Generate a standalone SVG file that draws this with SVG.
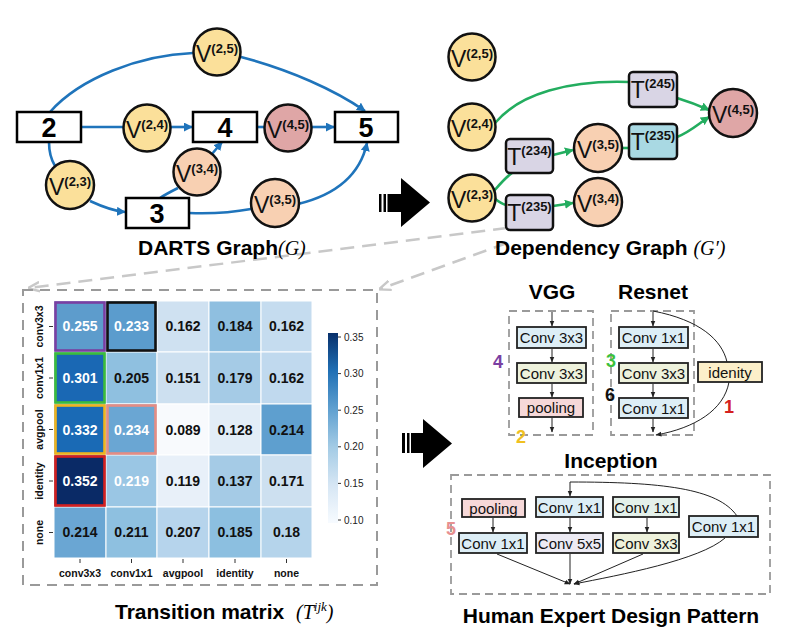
<svg xmlns="http://www.w3.org/2000/svg" width="800" height="638" viewBox="0 0 800 638">
<defs>
<style>
text{font-family:"Liberation Sans",Arial,sans-serif;}
.box{fill:#fff;stroke:#000;stroke-width:2.5;}
.num{font-size:27px;font-weight:bold;text-anchor:middle;}
.vy{fill:#fbe09a;stroke:#111;stroke-width:2.5;}
.vp{fill:#f8d0b2;stroke:#111;stroke-width:2.5;}
.vr{fill:#dfa6a6;stroke:#111;stroke-width:2.5;}
.lbl{font-size:23px;text-anchor:middle;fill:#111;}
.sup{font-size:13px;font-weight:bold;}
.tb{fill:#d9d5e5;stroke:#111;stroke-width:2.5;}
.tc{fill:#a9d9e3;stroke:#111;stroke-width:2.5;}
.be{fill:none;stroke:#1f74bb;stroke-width:2.6;}
.ge{fill:none;stroke:#23ad5f;stroke-width:2.6;}
.title{font-size:21px;font-weight:bold;}
.math{font-family:"Liberation Serif","Times New Roman",serif;font-style:italic;font-size:20px;font-weight:normal;}
.msup{font-family:"Liberation Serif","Times New Roman",serif;font-style:italic;font-size:13px;font-weight:normal;}
.gd{fill:none;stroke:#c8c8c8;stroke-width:2.5;stroke-dasharray:14 8;}
.frame{fill:none;stroke:#9a9a9a;stroke-width:2;stroke-dasharray:10 7;}
.sframe{fill:none;stroke:#9a9a9a;stroke-width:1.8;stroke-dasharray:8 5;}
.cv{font-size:14px;font-weight:bold;text-anchor:middle;fill:#111;}
.cw{font-size:14px;font-weight:bold;text-anchor:middle;fill:#fff;}
.ax{font-size:10.5px;font-weight:bold;text-anchor:middle;fill:#111;}
.cb{font-size:10px;fill:#222;}
.sb{stroke:#222;stroke-width:1.8;}
.st{font-size:15px;text-anchor:middle;fill:#111;}
.ka{fill:none;stroke:#222;stroke-width:1;}
.mark{font-size:18px;font-weight:bold;text-anchor:middle;}
</style>
<marker id="mb" viewBox="0 0 10 10" refX="9" refY="5" markerWidth="9" markerHeight="9" markerUnits="userSpaceOnUse" orient="auto"><path d="M0,0 L10,5 L0,10 z" fill="#1f74bb"/></marker>
<marker id="mg" viewBox="0 0 10 10" refX="9" refY="5" markerWidth="9" markerHeight="9" markerUnits="userSpaceOnUse" orient="auto"><path d="M0,0 L10,5 L0,10 z" fill="#23ad5f"/></marker>
<marker id="mk" viewBox="0 0 10 10" refX="9" refY="5" markerWidth="6" markerHeight="6" markerUnits="userSpaceOnUse" orient="auto"><path d="M0,1 L10,5 L0,9 z" fill="#222"/></marker>
<marker id="mgr" viewBox="0 0 10 10" refX="9" refY="5" markerWidth="12" markerHeight="12" markerUnits="userSpaceOnUse" orient="auto"><path d="M0,1 L10,5 L0,9" fill="none" stroke="#c8c8c8" stroke-width="2"/></marker>
<linearGradient id="blues" x1="0" y1="1" x2="0" y2="0">
<stop offset="0" stop-color="#f7fbff"/>
<stop offset="0.2" stop-color="#d6e6f4"/>
<stop offset="0.4" stop-color="#a3cbe5"/>
<stop offset="0.6" stop-color="#5fa0d0"/>
<stop offset="0.8" stop-color="#2070b5"/>
<stop offset="1" stop-color="#08306b"/>
</linearGradient>
</defs>
<rect width="800" height="638" fill="#fff"/>

<g id="zoom-lines">
<path class="gd" d="M507,228 L29,288" marker-end="url(#mgr)"/>
<path class="gd" d="M507,243 L380,289" marker-end="url(#mgr)"/>
</g>

<g id="darts-edges">
<path class="be" d="M50,112 C80,78 140,55 193,53"/>
<path class="be" d="M241,57 C290,70 335,90 365,111" marker-end="url(#mb)"/>
<path class="be" d="M81,127 L124,127"/>
<path class="be" d="M170,127 L192,127" marker-end="url(#mb)"/>
<path class="be" d="M257,127 L265,127"/>
<path class="be" d="M311,127 L334,127" marker-end="url(#mb)"/>
<path class="be" d="M49,142 C49,155 52,161 55,166"/>
<path class="be" d="M90,201 C103,207 113,211 125,212" marker-end="url(#mb)"/>
<path class="be" d="M160,198 C166,194 172,191 178,188"/>
<path class="be" d="M212,154 L222,142" marker-end="url(#mb)"/>
<path class="be" d="M189,213 C215,214 235,212 251,209"/>
<path class="be" d="M298,204 C335,195 360,175 367,143" marker-end="url(#mb)"/>
</g>

<g id="n2"><rect class="box" x="17" y="112" width="64" height="30"/><text class="num" x="49" y="137">2</text></g>
<g id="n4"><rect class="box" x="193" y="112" width="64" height="30"/><text class="num" x="225" y="137">4</text></g>
<g id="n5"><rect class="box" x="335" y="112" width="63" height="30"/><text class="num" x="366" y="137">5</text></g>
<g id="n3"><rect class="box" x="126" y="198" width="63" height="30"/><text class="num" x="157" y="223">3</text></g>

<g id="v25"><circle class="vy" cx="217" cy="52" r="23.5"/><text class="lbl" x="217" y="62">V<tspan class="sup" dy="-9">(2,5)</tspan></text></g>
<g id="v24"><circle class="vy" cx="147" cy="128" r="23.5"/><text class="lbl" x="147" y="138">V<tspan class="sup" dy="-9">(2,4)</tspan></text></g>
<g id="v45"><circle class="vr" cx="288" cy="128" r="23.5"/><text class="lbl" x="288" y="138">V<tspan class="sup" dy="-9">(4,5)</tspan></text></g>
<g id="v23"><circle class="vy" cx="70" cy="185" r="24"/><text class="lbl" x="70" y="195">V<tspan class="sup" dy="-9">(2,3)</tspan></text></g>
<g id="v34"><circle class="vp" cx="197" cy="172" r="23.5"/><text class="lbl" x="197" y="182">V<tspan class="sup" dy="-9">(3,4)</tspan></text></g>
<g id="v35"><circle class="vp" cx="275" cy="203" r="24"/><text class="lbl" x="275" y="213">V<tspan class="sup" dy="-9">(3,5)</tspan></text></g>

<g id="darts-title"><text x="138" y="255" class="title">DARTS Graph<tspan class="math">(G)</tspan></text></g>

<g id="big-arrow-1">
<rect x="379" y="194" width="2.5" height="18" fill="#000"/>
<rect x="383.5" y="194" width="2.5" height="18" fill="#000"/>
<polygon points="387.5,194 401,194 401,178 430,202.5 401,227 401,212 387.5,212" fill="#000"/>
</g>
<g id="big-arrow-2">
<rect x="402" y="433" width="3" height="20" fill="#000"/>
<rect x="407" y="433" width="2.5" height="20" fill="#000"/>
<polygon points="411,433 423,433 423,419 452,443.5 423,468 423,453 411,453" fill="#000"/>
</g>

<g id="dep-edges">
<path class="ge" d="M495,123 C520,93 570,80 629,82"/>
<path class="ge" d="M677,98 C690,102 698,105 709,110" marker-end="url(#mg)"/>
<path class="ge" d="M677,137 C690,132 698,124 709,117" marker-end="url(#mg)"/>
<path class="ge" d="M621,148 L629,148"/>
<path class="ge" d="M553,155 L573,150" marker-end="url(#mg)"/>
<path class="ge" d="M494,191 C500,184 505,178 512,173"/>
<path class="ge" d="M494,198 C499,202 502,204 506,205"/>
<path class="ge" d="M553,206 L573,203" marker-end="url(#mg)"/>
</g>

<g id="d-v25"><circle class="vy" cx="472" cy="57" r="23.5"/><text class="lbl" x="472" y="67">V<tspan class="sup" dy="-9">(2,5)</tspan></text></g>
<g id="d-v24"><circle class="vy" cx="472" cy="127" r="23.5"/><text class="lbl" x="472" y="137">V<tspan class="sup" dy="-9">(2,4)</tspan></text></g>
<g id="d-v23"><circle class="vy" cx="472" cy="198" r="23.5"/><text class="lbl" x="472" y="208">V<tspan class="sup" dy="-9">(2,3)</tspan></text></g>
<g id="d-t234"><rect class="tb" x="506" y="139" width="47" height="34" rx="4"/><text class="lbl" x="529.5" y="165">T<tspan class="sup" dy="-10">(234)</tspan></text></g>
<g id="d-t235a"><rect class="tb" x="506" y="195" width="47" height="35" rx="4"/><text class="lbl" x="529.5" y="221">T<tspan class="sup" dy="-10">(235)</tspan></text></g>
<g id="d-v35"><circle class="vp" cx="598" cy="148" r="24"/><text class="lbl" x="598" y="158">V<tspan class="sup" dy="-9">(3,5)</tspan></text></g>
<g id="d-v34"><circle class="vp" cx="598" cy="202" r="24"/><text class="lbl" x="598" y="212">V<tspan class="sup" dy="-9">(3,4)</tspan></text></g>
<g id="d-t245"><rect class="tb" x="629" y="72" width="48" height="35" rx="4"/><text class="lbl" x="653" y="98">T<tspan class="sup" dy="-10">(245)</tspan></text></g>
<g id="d-t235b"><rect class="tc" x="629" y="124" width="48" height="35" rx="4"/><text class="lbl" x="653" y="150">T<tspan class="sup" dy="-10">(235)</tspan></text></g>
<g id="d-v45"><circle class="vr" cx="733" cy="113" r="24"/><text class="lbl" x="733" y="123">V<tspan class="sup" dy="-9">(4,5)</tspan></text></g>

<g id="dep-title"><text x="495" y="255" class="title">Dependency Graph <tspan class="math">(G′)</tspan></text></g>

<g id="matrix">
<rect class="frame" x="23" y="290" width="354" height="295"/>
<g stroke="#fff" stroke-width="1">
<rect x="54" y="301" width="52" height="51" fill="#5d9ccc"/>
<rect x="106" y="301" width="51" height="51" fill="#5b9ccd"/>
<rect x="157" y="301" width="52" height="51" fill="#cfe1f1"/>
<rect x="209" y="301" width="52" height="51" fill="#8fbfe0"/>
<rect x="261" y="301" width="51" height="51" fill="#c5dcef"/>
<rect x="54" y="352" width="52" height="52" fill="#1a68b4"/>
<rect x="106" y="352" width="51" height="52" fill="#8fc0e0"/>
<rect x="157" y="352" width="52" height="52" fill="#cde0f0"/>
<rect x="209" y="352" width="52" height="52" fill="#a5cbe6"/>
<rect x="261" y="352" width="51" height="52" fill="#c0d9ee"/>
<rect x="54" y="404" width="52" height="51" fill="#1a6ab5"/>
<rect x="106" y="404" width="51" height="51" fill="#6aa6d3"/>
<rect x="157" y="404" width="52" height="51" fill="#f8fafd"/>
<rect x="209" y="404" width="52" height="51" fill="#e2edf7"/>
<rect x="261" y="404" width="51" height="51" fill="#5e9fcf"/>
<rect x="54" y="455" width="52" height="52" fill="#0a2a66"/>
<rect x="106" y="455" width="51" height="52" fill="#9ac6e4"/>
<rect x="157" y="455" width="52" height="52" fill="#e8f0f9"/>
<rect x="209" y="455" width="52" height="52" fill="#a5cbe6"/>
<rect x="261" y="455" width="51" height="52" fill="#cde0f0"/>
<rect x="54" y="507" width="52" height="51" fill="#6aa6d3"/>
<rect x="106" y="507" width="51" height="51" fill="#8ec0e0"/>
<rect x="157" y="507" width="52" height="51" fill="#b6d4ec"/>
<rect x="209" y="507" width="52" height="51" fill="#8cbfe0"/>
<rect x="261" y="507" width="51" height="51" fill="#b5d4eb"/>
</g>
<g fill="none" stroke-width="2.6">
<rect x="55.5" y="302.5" width="49" height="48" stroke="#7a3fa2"/>
<rect x="107.5" y="302.5" width="48" height="48" stroke="#111"/>
<rect x="55.5" y="353.5" width="49" height="49" stroke="#3cbc3c"/>
<rect x="55.5" y="405.5" width="49" height="48" stroke="#f0b41e"/>
<rect x="107.5" y="405.5" width="48" height="48" stroke="#e48c84"/>
<rect x="55.5" y="456.5" width="49" height="49" stroke="#d42020"/>
</g>
<text class="cw" x="80" y="331">0.255</text>
<text class="cw" x="131.5" y="331">0.233</text>
<text class="cv" x="183" y="331">0.162</text>
<text class="cv" x="235" y="331">0.184</text>
<text class="cv" x="286.5" y="331">0.162</text>
<text class="cw" x="80" y="383">0.301</text>
<text class="cv" x="131.5" y="383">0.205</text>
<text class="cv" x="183" y="383">0.151</text>
<text class="cv" x="235" y="383">0.179</text>
<text class="cv" x="286.5" y="383">0.162</text>
<text class="cw" x="80" y="435">0.332</text>
<text class="cw" x="131.5" y="435">0.234</text>
<text class="cv" x="183" y="435">0.089</text>
<text class="cv" x="235" y="435">0.128</text>
<text class="cv" x="286.5" y="435">0.214</text>
<text class="cw" x="80" y="486">0.352</text>
<text class="cw" x="131.5" y="486">0.219</text>
<text class="cv" x="183" y="486">0.119</text>
<text class="cv" x="235" y="486">0.137</text>
<text class="cv" x="286.5" y="486">0.171</text>
<text class="cv" x="80" y="537">0.214</text>
<text class="cv" x="131.5" y="537">0.211</text>
<text class="cv" x="183" y="537">0.207</text>
<text class="cv" x="235" y="537">0.185</text>
<text class="cv" x="286.5" y="537">0.18</text>
<g stroke="#333" stroke-width="1">
<path d="M49,326.5 H53 M49,378 H53 M49,429.5 H53 M49,481 H53 M49,532.5 H53"/>
<path d="M80,559 V563 M131.5,559 V563 M183,559 V563 M235,559 V563 M286.5,559 V563"/>
</g>
<g class="ax">
<text transform="translate(43,326.5) rotate(-90)">conv3x3</text>
<text transform="translate(43,378) rotate(-90)">conv1x1</text>
<text transform="translate(43,429.5) rotate(-90)">avgpool</text>
<text transform="translate(43,481) rotate(-90)">identity</text>
<text transform="translate(43,532.5) rotate(-90)">none</text>
<text x="80" y="577">conv3x3</text>
<text x="131.5" y="577">conv1x1</text>
<text x="183" y="577">avgpool</text>
<text x="235" y="577">identity</text>
<text x="286.5" y="577">none</text>
</g>
<rect x="328" y="333" width="10" height="190" fill="url(#blues)"/>
<g stroke="#333" stroke-width="1">
<path d="M338,337 H341 M338,373.6 H341 M338,410.2 H341 M338,446.8 H341 M338,483.4 H341 M338,520 H341"/>
</g>
<text class="cb" x="344" y="340.5">0.35</text>
<text class="cb" x="344" y="377">0.30</text>
<text class="cb" x="344" y="413.5">0.25</text>
<text class="cb" x="344" y="450">0.20</text>
<text class="cb" x="344" y="487">0.15</text>
<text class="cb" x="344" y="523.5">0.10</text>
</g>
<g id="matrix-title"><text x="115" y="619" class="title">Transition matrix <tspan class="math" dx="6">(T</tspan><tspan class="msup" dy="-8">ijk</tspan><tspan class="math" dy="8">)</tspan></text></g>

<g id="vgg">
<text x="552" y="299" class="title" text-anchor="middle">VGG</text>
<rect class="sframe" x="509" y="311" width="84" height="124"/>
<rect class="sb" x="517" y="327" width="69" height="21" fill="#ddeef6"/><text class="st" x="551.5" y="343">Conv 3x3</text>
<rect class="sb" x="517" y="363" width="69" height="20" fill="#eef2dc"/><text class="st" x="551.5" y="378.5">Conv 3x3</text>
<rect class="sb" x="519" y="398" width="64" height="19" fill="#f6d8d8"/><text class="st" x="551" y="413">pooling</text>
<path class="ka" d="M552,312 V326" marker-end="url(#mk)"/>
<path class="ka" d="M552,349 V362" marker-end="url(#mk)"/>
<path class="ka" d="M552,384 V397" marker-end="url(#mk)"/>
<path class="ka" d="M552,418 V432" marker-end="url(#mk)"/>
<text class="mark" x="498" y="368" fill="#7a3fa2">4</text>
<text class="mark" x="521" y="443" fill="#f0c020">2</text>
</g>

<g id="resnet">
<text x="653" y="299" class="title" text-anchor="middle">Resnet</text>
<rect class="sframe" x="611" y="311" width="83" height="124"/>
<rect class="sb" x="619" y="327" width="69" height="21" fill="#ddeef6"/><text class="st" x="653.5" y="343">Conv 1x1</text>
<rect class="sb" x="619" y="363" width="69" height="20" fill="#eef2dc"/><text class="st" x="653.5" y="378.5">Conv 3x3</text>
<rect class="sb" x="619" y="398" width="69" height="20" fill="#ddeef6"/><text class="st" x="653.5" y="413.5">Conv 1x1</text>
<path class="ka" d="M653,312 V326" marker-end="url(#mk)"/>
<path class="ka" d="M653,349 V362" marker-end="url(#mk)"/>
<path class="ka" d="M653,384 V397" marker-end="url(#mk)"/>
<path class="ka" d="M653,419 V432" marker-end="url(#mk)"/>
<path class="ka" d="M653,311 C700,320 722,340 727,362"/>
<path class="ka" d="M729,382 C724,410 695,428 656,435" marker-end="url(#mk)"/>
<rect class="sb" x="698" y="362" width="64" height="20" fill="#fcefc9"/><text class="st" x="730" y="377.5">idenity</text>
<text class="mark" x="611" y="367" fill="#3cc03c">3</text>
<text class="mark" x="610" y="401" fill="#111">6</text>
<text class="mark" x="729" y="413" fill="#d42020">1</text>
</g>

<g id="inception">
<text x="611" y="468" class="title" text-anchor="middle">Inception</text>
<rect class="sframe" x="451" y="475" width="319" height="119"/>
<rect class="sb" x="462" y="499" width="63" height="18" fill="#f6d8d8"/><text class="st" x="493.5" y="513.5">pooling</text>
<rect class="sb" x="459" y="533" width="68" height="20" fill="#ddeef6"/><text class="st" x="493" y="548.5">Conv 1x1</text>
<rect class="sb" x="536" y="497" width="67" height="20" fill="#ddeef6"/><text class="st" x="569.5" y="512.5">Conv 1x1</text>
<rect class="sb" x="536" y="533" width="67" height="20" fill="#eceaf3"/><text class="st" x="569.5" y="548.5">Conv 5x5</text>
<rect class="sb" x="613" y="497" width="66" height="20" fill="#e4f1ea"/><text class="st" x="646" y="512.5">Conv 1x1</text>
<rect class="sb" x="613" y="533" width="66" height="20" fill="#eef2dc"/><text class="st" x="646" y="548.5">Conv 3x3</text>
<rect class="sb" x="689" y="516" width="69" height="21" fill="#ddeef6"/><text class="st" x="723.5" y="532">Conv 1x1</text>
<path class="ka" d="M493,518 V532" marker-end="url(#mk)"/>
<path class="ka" d="M570,518 V532" marker-end="url(#mk)"/>
<path class="ka" d="M647,518 V532" marker-end="url(#mk)"/>
<path class="ka" d="M737,516 C718,488 660,482 570,482 V496" marker-end="url(#mk)"/>
<path class="ka" d="M497,554 L570,584" marker-end="url(#mk)"/>
<path class="ka" d="M570,554 V584" marker-end="url(#mk)"/>
<path class="ka" d="M643,554 L574,584" marker-end="url(#mk)"/>
<path class="ka" d="M725,538 C700,560 620,575 574,584" marker-end="url(#mk)"/>
<text class="mark" x="451" y="535" fill="#e89090">5</text>
</g>
<g id="pattern-title"><text x="611" y="623" class="title" text-anchor="middle">Human Expert Design Pattern</text></g>
</svg>
